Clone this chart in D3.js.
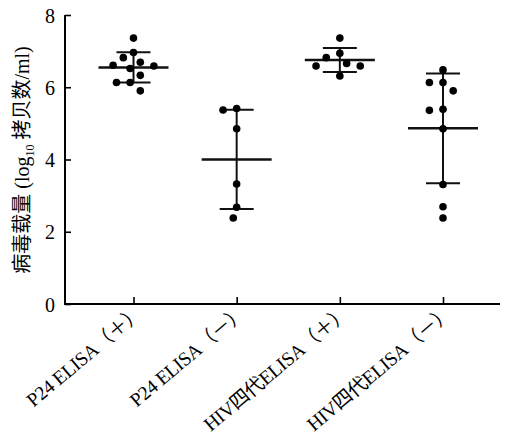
<!DOCTYPE html>
<html>
<head>
<meta charset="utf-8">
<script src="https://cdn.jsdelivr.net/npm/d3@7"></script>
<style>
  body { margin: 0; background: #fff; }
  svg { display: block; }
</style>
</head>
<body>
<div id="chart"></div>
<script>
// values (log10 copies/ml)
const categories = ["P24 ELISA（＋）", "P24 ELISA（－）", "HIV四代ELISA（＋）", "HIV四代ELISA（－）"];
const p24Pos = [7.36, 6.96, 6.82, 6.69, 6.61, 6.59, 6.52, 6.33, 6.13, 6.13, 5.90];
const p24Neg = [5.41, 5.37, 4.85, 3.32, 2.68, 2.38];
const hivPos = [7.36, 6.94, 6.82, 6.66, 6.59, 6.59, 6.31];
const hivNeg = [6.48, 6.13, 6.13, 5.90, 5.39, 5.36, 4.85, 3.31, 2.69, 2.38];
const yTicks = [0, 2, 4, 6, 8];

const groups = [p24Pos, p24Neg, hivPos, hivNeg];

const width = 511, height = 441;
const r = 3.8;
const font = "'Liberation Serif', 'Noto Sans CJK SC', serif";

const svg = d3.select("#chart").append("svg")
    .attr("width", width)
    .attr("height", height)
    .style("font-family", font);

svg.append("rect").attr("width", width).attr("height", height).attr("fill", "#fff");

var y = d3.scaleLinear().domain([0, 8]).range([304, 15]);
var x = d3.scalePoint().domain(categories).range([133.5, 443]);

// simple beeswarm so dots don't overlap
function swarm(vals) {
    const out = new Array(vals.length);
    const placed = [];
    const order = d3.range(vals.length).sort((a, b) => vals[b] - vals[a]);
    const step = 3.4;
    const minD = 2 * r + 3.5;
    order.forEach(function (i) {
        const py = y(vals[i]);
        let k = 0;
        while (true) {
            const off = k == 0 ? 0 : (k % 2 ? -1 : 1) * Math.ceil(k / 2) * step;
            const ok = placed.every(p => (p.x - off) ** 2 + (p.y - py) ** 2 >= minD * minD);
            if (ok) { out[i] = off; placed.push({ x: off, y: py }); break; }
            k++;
        }
    });
    return out;
}

// y axis
var yAxis = svg.append("g")
    .attr("transform", "translate(65,0)")
    .call(d3.axisLeft(y).tickValues(yTicks).tickSize(-6).tickPadding(10).tickFormat(d3.format("d")));
yAxis.attr("font-family", font);
yAxis.select(".domain").attr("stroke-width", 2).attr("d", "M0," + y(8) + "V" + y(0));
yAxis.selectAll(".tick line").attr("stroke-width", 1.6);
yAxis.selectAll("text").attr("font-size", 20).attr("fill", "#000").attr("dy", "0.36em");

// x axis
var xAxis = svg.append("g")
    .attr("transform", "translate(0," + y(0) + ")")
    .call(d3.axisBottom(x).tickSize(-7).tickPadding(0));
xAxis.attr("font-family", font);
xAxis.select(".domain").attr("stroke-width", 2).attr("d", "M64,0H500");
xAxis.selectAll(".tick line").attr("stroke-width", 1.6);
xAxis.selectAll("text")
    .attr("font-size", 19.5)
    .attr("fill", "#000")
    .attr("text-anchor", "end")
    .attr("y", 0)
    .attr("dy", 0)
    .attr("letter-spacing", -0.4)
    .attr("transform", "translate(10,11) rotate(-40)");

// y title
var title = svg.append("text")
    .attr("transform", "translate(29," + 160 + ") rotate(-90)")
    .attr("text-anchor", "middle")
    .attr("font-size", 20)
    .attr("fill", "#000");
title.append("tspan").text("病毒载量 (log");
title.append("tspan").attr("font-size", 12).attr("dy", 5).text("10");
title.append("tspan").attr("dy", -5).text(" 拷贝数/ml)");

// mean ± SD bars
groups.forEach(function (vals, gi) {
    const cx = x(categories[gi]);
    const m = d3.mean(vals), sd = d3.deviation(vals);
    const g = svg.append("g").attr("stroke", "#111");
    g.append("line").attr("x1", cx).attr("x2", cx)
        .attr("y1", y(m + sd)).attr("y2", y(m - sd)).attr("stroke-width", 2);
    [m + sd, m - sd].forEach(v => {
        g.append("line").attr("x1", cx - 17).attr("x2", cx + 17)
            .attr("y1", y(v)).attr("y2", y(v)).attr("stroke-width", 2);
    });
    g.append("line").attr("x1", cx - 35).attr("x2", cx + 35)
        .attr("y1", y(m)).attr("y2", y(m)).attr("stroke-width", 2.5);
});

// dots
groups.forEach(function (vals, gi) {
    const cx = x(categories[gi]);
    const offs = swarm(vals);
    svg.append("g").selectAll("circle")
        .data(vals)
        .enter().append("circle")
        .attr("cx", (d, i) => cx + offs[i])
        .attr("cy", d => y(d))
        .attr("r", r)
        .attr("fill", "#000");
});
</script>
</body>
</html>
